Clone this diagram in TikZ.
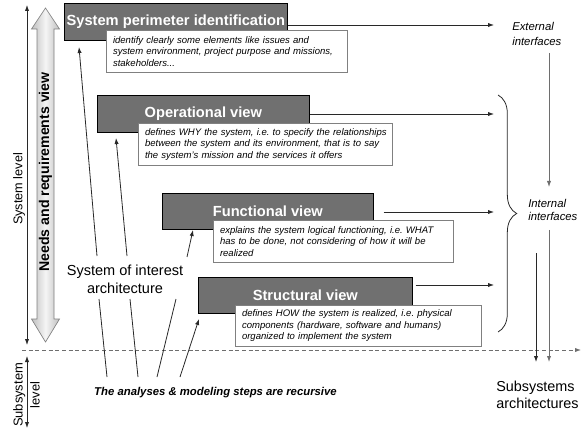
\documentclass[tikz,border=0pt]{standalone}
\usepackage{fontspec}
\setmainfont{Liberation Sans}
\usetikzlibrary{arrows.meta,decorations.pathreplacing,calc}
\definecolor{boxgray}{RGB}{112,112,112}
\definecolor{linecol}{RGB}{40,40,40}
\definecolor{lightline}{RGB}{110,110,110}
\frenchspacing
\begin{document}
\begin{tikzpicture}[x=0.75pt,y=-0.75pt,
  tip/.style={-{Latex[length=4.5pt,width=3.2pt]}},
  dtip/.style={{Latex[length=4.5pt,width=3.2pt]}-{Latex[length=4.5pt,width=3.2pt]}},
  conn/.style={draw=linecol, line width=0.6pt},
  titlebox/.style={draw=black, line width=0.5pt, fill=boxgray, text=white, anchor=north west, inner sep=0pt,
    font=\fontsize{11}{13}\selectfont\bfseries},
  desc/.style={draw=gray, line width=0.5pt, fill=white, anchor=north west, inner xsep=5pt, inner ysep=0pt,
    align=left, font=\fontsize{7.15}{8.5}\selectfont\itshape},
  itlab/.style={anchor=west, align=left, inner sep=0pt, font=\fontsize{8.5}{11}\selectfont\itshape},
  biglab/.style={inner sep=0pt, font=\fontsize{10.8}{12.8}\selectfont},
]
\useasboundingbox (0,0) rectangle (582,431);

% ---------- big double block arrow ----------
\shade[left color=gray!50, right color=gray!50, middle color=gray!8]
  (45.5,8) -- (59.5,29) -- (54,29) -- (54,319) -- (59.5,319) -- (45.5,342)
  -- (31.5,319) -- (37,319) -- (37,29) -- (31.5,29) -- cycle;
\draw[gray, line width=0.5pt]
  (45.5,8) -- (59.5,29) -- (54,29) -- (54,319) -- (59.5,319) -- (45.5,342)
  -- (31.5,319) -- (37,319) -- (37,29) -- (31.5,29) -- cycle;
\node[rotate=90, inner sep=0pt, font=\fontsize{10.6}{12}\selectfont\bfseries] (nrv) at (45.5,172)
  {Needs and requirements view};

% ---------- level arrows ----------
\coordinate (sl1) at (27,5);
\coordinate (sl2) at (27,345);
\draw[conn, dtip] (sl1) -- (sl2);
\node[rotate=90, inner sep=0pt, font=\fontsize{9.5}{11}\selectfont] (slev) at (19,189) {System level};
\coordinate (ss1) at (27,356);
\coordinate (ss2) at (27,428);
\draw[conn, dtip] (ss1) -- (ss2);
\node[rotate=90, inner sep=0pt, align=center, font=\fontsize{9.7}{12.8}\selectfont] (sslev) at (26.5,395) {Subsystem\\level};

% ---------- dashed separation ----------
\coordinate (dl) at (22,350);
\coordinate (dr) at (581,350);
\draw[draw=lightline, line width=0.6pt, dash pattern=on 3pt off 2pt, tip] (dl) -- (dr);

% ---------- title boxes and descriptions ----------
\node[titlebox, minimum width=167.25pt, minimum height=27.75pt] (b1) at (64,3) {System perimeter identification};
\node[desc, text width=170.75pt, minimum height=31.5pt] (d1) at (106,30)
  {\mbox{identify clearly some elements like issues and}\\\mbox{system environment, project purpose and missions,}\\\mbox{stakeholders...}};

\node[titlebox, minimum width=159pt, minimum height=27.75pt] (b2) at (97,95) {Operational view};
\node[desc, text width=180.5pt, minimum height=31.5pt] (d2) at (138,123)
  {\mbox{defines WHY the system, i.e. to specify the relationships}\\\mbox{between the system and its environment, that is to say}\\\mbox{the system's mission and the services it offers}};

\node[titlebox, minimum width=158.25pt, minimum height=27pt] (b3) at (162,193) {Functional view};
\node[desc, text width=170pt, minimum height=31.5pt] (d3) at (213,220)
  {\mbox{explains the system logical functioning, i.e. WHAT}\\\mbox{has to be done, not considering of how it will be}\\\mbox{realized}};

\node[titlebox, minimum width=160.5pt, minimum height=27pt] (b4) at (198,277) {Structural view};
\node[desc, text width=174.5pt, minimum height=30.75pt] (d4) at (235,305)
  {\mbox{defines HOW the system is realized, i.e. physical}\\\mbox{components (hardware, software and humans)}\\\mbox{organized to implement the system}};

% ---------- arrows to the right ----------
\coordinate (r1) at (494,25);
\coordinate (r2) at (494,114);
\coordinate (r3) at (494,212);
\coordinate (r4) at (494,285);
\coordinate (s3) at ([xshift=7.5pt]b3.east);
\coordinate (s4) at ([xshift=2.25pt]b4.east);
\draw[conn, tip] (b1.east |- r1) -- (r1);
\draw[conn, tip] (b2.east |- r2) -- (r2);
\draw[conn, tip] (s3 |- r3) -- (r3);
\draw[conn, tip] (s4 |- r4) -- (r4);

% ---------- interfaces ----------
\node[itlab] (ext) at (512,34) {External\\interfaces};
\node[itlab, font=\fontsize{8.5}{9.6}\selectfont\itshape] (int) at (528,210) {Internal\\interfaces};
\draw[decorate, decoration={brace, amplitude=14pt, aspect=0.5}, draw=linecol, line width=0.6pt]
  (498,95) -- (498,332);

\node[biglab, anchor=west, align=left] (sub) at (496,395) {Subsystems\\architectures};

\coordinate (xr) at (549,0);
\coordinate (xl) at (536,0);
\coordinate (ya) at (0,53);
\coordinate (yb) at (0,187);
\coordinate (yc) at (0,230);
\coordinate (yd) at (0,253);
\coordinate (ye) at (0,362);
\draw[draw=lightline, line width=0.6pt, tip] (xr |- ya) -- (xr |- yb);
\draw[draw=lightline, line width=0.6pt, tip] (xr |- yc) -- (xr |- ye);
\draw[conn, tip] (xl |- yd) -- (xl |- ye);

% ---------- system of interest ----------
\node[biglab, align=center, font=\fontsize{10.9}{13.5}\selectfont] (soi) at (125,279) {System of interest\\architecture};
\node[inner sep=0pt, font=\fontsize{8.5}{10}\selectfont\bfseries\itshape] (rec) at (215.5,393)
  {The analyses \& modeling steps are recursive};

\coordinate (a1s) at (97,256);   \coordinate (a1e) at (79,47);
\coordinate (a2s) at (127,256);  \coordinate (a2e) at (116,138);
\coordinate (a3s) at (187,257);  \coordinate (a3e) at (193,230);
\coordinate (l4s) at (99,299);   \coordinate (l4e) at (107,377);
\coordinate (l5s) at (130,299);  \coordinate (l5e) at (138,377);
\coordinate (l6s) at (176,299);  \coordinate (l6e) at (157,377);
\coordinate (a7s) at (180,377);  \coordinate (a7e) at (199,319);
\draw[conn, tip] (a1s) -- (a1e);
\draw[conn, tip] (a2s) -- (a2e);
\draw[conn, tip] (a3s) -- (a3e);
\draw[conn] (l4s) -- (l4e);
\draw[conn] (l5s) -- (l5e);
\draw[conn] (l6s) -- (l6e);
\draw[conn, tip] (a7s) -- (a7e);
\end{tikzpicture}
\end{document}
